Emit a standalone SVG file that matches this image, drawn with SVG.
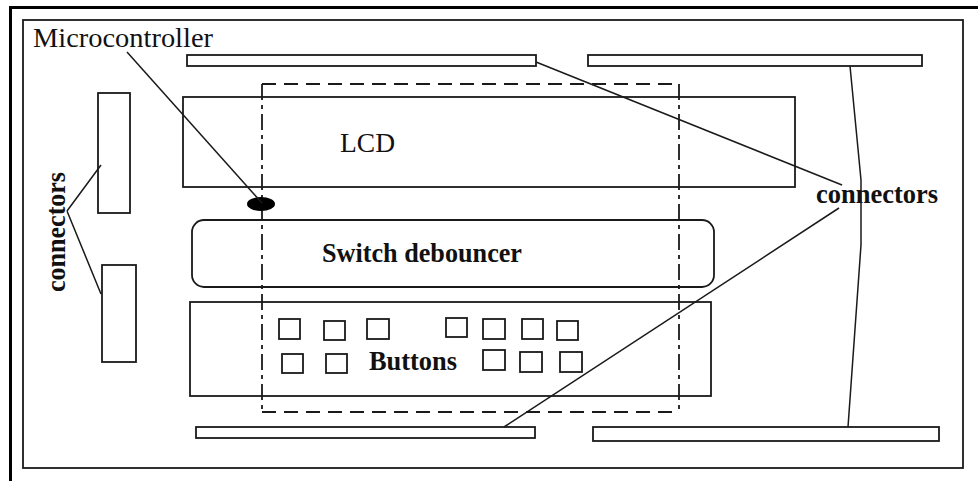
<svg xmlns="http://www.w3.org/2000/svg" width="978" height="481" viewBox="0 0 978 481">
<style>
.s{fill:none;stroke:#1a1a1a;stroke-width:1.8}
.ln{fill:none;stroke:#1a1a1a;stroke-width:1.5}
.t{font-family:"Liberation Serif","Times New Roman",serif;fill:#111;font-size:27px}
.b{font-weight:bold}
.dash{fill:none;stroke:#1a1a1a;stroke-width:1.8;stroke-dasharray:14 8}
.dd{fill:none;stroke:#1a1a1a;stroke-width:1.8;stroke-dasharray:16 5 4 5}
</style>
<rect width="978" height="481" fill="#fff"/>
<path d="M10.5,481V7.5H978" fill="none" stroke="#000" stroke-width="3"/>
<rect x="23" y="20" width="940" height="448" class="s"/>

<g id="connector-top-left"><rect x="187" y="55" width="349" height="11" class="s"/></g>
<g id="connector-top-right"><rect x="588" y="55" width="334" height="11" class="s"/></g>
<g id="connector-bottom-left"><rect x="196" y="427" width="339" height="11" class="s"/></g>
<g id="connector-bottom-right"><rect x="593" y="427" width="346" height="14" class="s"/></g>
<g id="connector-left-1"><rect x="98" y="93" width="32" height="120" class="s"/></g>
<g id="connector-left-2"><rect x="102" y="265" width="34" height="97" class="s"/></g>

<g id="lcd">
<rect x="183" y="97" width="612" height="90" class="s"/>
<text x="340" y="152" class="t" textLength="55" lengthAdjust="spacingAndGlyphs">LCD</text>
</g>

<g id="switch-debouncer">
<rect x="192" y="220" width="522" height="67" rx="12" class="s"/>
<text x="322" y="262" class="t b" textLength="200" lengthAdjust="spacingAndGlyphs">Switch debouncer</text>
</g>

<g id="buttons">
<rect x="190" y="302" width="521" height="94" class="s"/>
<g class="s">
<rect x="279" y="319" width="21" height="20"/>
<rect x="324" y="321" width="21" height="19"/>
<rect x="367" y="319" width="22" height="20"/>
<rect x="446" y="318" width="21" height="19"/>
<rect x="483" y="319" width="22" height="20"/>
<rect x="522" y="319" width="21" height="20"/>
<rect x="557" y="321" width="21" height="19"/>
<rect x="282" y="354" width="21" height="19"/>
<rect x="326" y="354" width="21" height="19"/>
<rect x="483" y="350" width="22" height="20"/>
<rect x="520" y="352" width="22" height="20"/>
<rect x="560" y="352" width="22" height="20"/>
</g>
<text x="369" y="370" class="t b" textLength="88" lengthAdjust="spacingAndGlyphs">Buttons</text>
</g>

<g id="microcontroller">
<path d="M262,84H679M262,412H679" class="dash"/>
<path d="M262,84V412M679,84V412" class="dd"/>
<ellipse cx="261" cy="204" rx="14" ry="7" fill="#000"/>
</g>

<g id="labels">
<text x="33" y="47" class="t" textLength="180" lengthAdjust="spacingAndGlyphs">Microcontroller</text>
<text x="816" y="203" class="t b" textLength="122" lengthAdjust="spacingAndGlyphs">connectors</text>
<text transform="translate(65,292) rotate(-90)" class="t b" textLength="120" lengthAdjust="spacingAndGlyphs">connectors</text>
</g>

<g id="connectors">
<path d="M127,52L262,203" class="ln"/>
<path d="M67,211L101,165M67,211L101,294" class="ln"/>
<path d="M536,62L842,185" class="ln"/>
<path d="M839,208L504,427" class="ln"/>
<path d="M850,66L861,180L861,245L848,427" class="ln"/>
</g>
</svg>
